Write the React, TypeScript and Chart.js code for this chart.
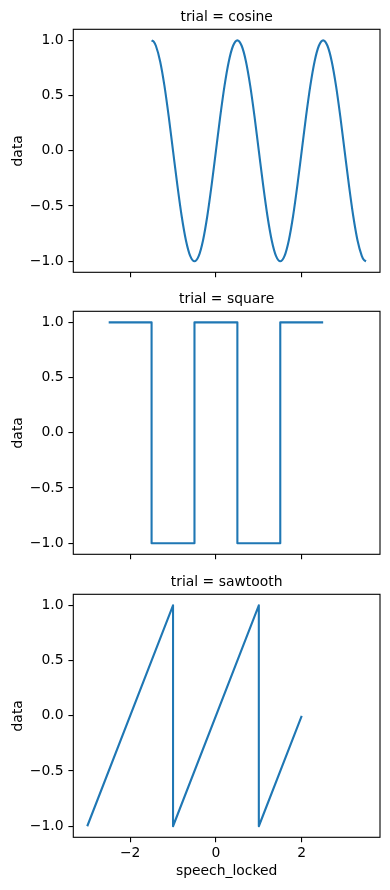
import React, { useEffect, useRef } from "react";
import { Chart, registerables } from "chart.js";

Chart.register(...registerables);

// ---- data ----
const cosineX = [
  -1.5, -1.45, -1.4, -1.3, -1.2, -1.1, -1.0, -0.9, -0.8, -0.7, -0.6,
  -0.5, -0.4, -0.3, -0.2, -0.1, 0.0, 0.1, 0.2, 0.3, 0.4,
  0.5, 0.6, 0.7, 0.8, 0.9, 1.0, 1.1, 1.2, 1.3, 1.4,
  1.5, 1.6, 1.7, 1.8, 1.9, 2.0, 2.1, 2.2, 2.3, 2.4,
  2.5, 2.6, 2.7, 2.8, 2.9, 3.0, 3.1, 3.2, 3.3, 3.4,
  3.45, 3.5,
];
const cosineY = [
  1.0, 0.988, 0.951, 0.809, 0.588, 0.309, 0.0, -0.309, -0.588, -0.809, -0.951,
  -1.0, -0.951, -0.809, -0.588, -0.309, 0.0, 0.309, 0.588, 0.809, 0.951,
  1.0, 0.951, 0.809, 0.588, 0.309, 0.0, -0.309, -0.588, -0.809, -0.951,
  -1.0, -0.951, -0.809, -0.588, -0.309, 0.0, 0.309, 0.588, 0.809, 0.951,
  1.0, 0.951, 0.809, 0.588, 0.309, 0.0, -0.309, -0.588, -0.809, -0.951,
  -0.988, -1.0,
];
const squareX = [-2.5, -1.5, -1.5, -0.5, -0.5, 0.5, 0.5, 1.5, 1.5, 2.5];
const squareY = [1, 1, -1, -1, 1, 1, -1, -1, 1, 1];
const sawtoothX = [-3, -1, -1, 1, 1, 2];
const sawtoothY = [-1, 1, -1, 1, -1, 0];

const panelTitles = ["trial = cosine", "trial = square", "trial = sawtooth"];
const xTickValues = [-2, 0, 2];
const yTickValues = [-1, -0.5, 0, 0.5, 1];
const xLabel = "speech_locked";
const yLabel = "data";

const X_MIN = -3.325;
const X_MAX = 3.825;
const Y_MIN = -1.1;
const Y_MAX = 1.1;

// ---- layout ----
const FONT_FAMILY = '"DejaVu Sans", sans-serif';
const FONT_SIZE = 13.9;
const PLOT_H = 243;
const LINE_COLOR = "#1f77b4";

const fmt = (v: number, digits: number) =>
  Number(v).toFixed(digits).replace("-", "\u2212");

function makeFramePlugin(title: string) {
  return {
    id: "frameAndTitle",
    afterDraw(chart: any) {
      const { ctx, chartArea: a } = chart;
      ctx.save();
      ctx.strokeStyle = "#000";
      ctx.lineWidth = 1.1;
      ctx.strokeRect(a.left, a.top, a.right - a.left, a.bottom - a.top);
      ctx.fillStyle = "#000";
      ctx.font = `${FONT_SIZE}px ${FONT_FAMILY}`;
      ctx.textAlign = "center";
      ctx.textBaseline = "alphabetic";
      ctx.fillText(title, (a.left + a.right) / 2, a.top - 8);
      ctx.restore();
    },
  };
}

type PanelProps = {
  title: string;
  xs: number[];
  ys: number[];
  top: number;
  height: number;
  plotTop: number;
  showXLabels: boolean;
  smooth?: boolean;
};

function Panel({ title, xs, ys, top, height, plotTop, showXLabels, smooth }: PanelProps) {
  const ref = useRef<HTMLCanvasElement>(null);
  useEffect(() => {
    const canvas = ref.current!;
    const plotBottom = plotTop + PLOT_H;
    const font = { family: FONT_FAMILY, size: FONT_SIZE };
    const chart = new Chart(canvas, {
      type: "scatter",
      data: {
        datasets: [
          {
            data: xs.map((x, i) => ({ x, y: ys[i] })),
            showLine: true,
            borderColor: LINE_COLOR,
            backgroundColor: LINE_COLOR,
            borderWidth: 2.1,
            pointRadius: 0,
            pointHoverRadius: 0,
            fill: false,
            borderJoinStyle: "round",
            borderCapStyle: "butt",
            cubicInterpolationMode: smooth ? "monotone" : "default",
            tension: smooth ? 0.4 : 0,
          } as any,
        ],
      },
      options: {
        responsive: false,
        animation: false,
        devicePixelRatio: 1,
        events: [],
        layout: { padding: { top: plotTop, right: 10, bottom: 0, left: 0 } },
        plugins: {
          legend: { display: false },
          tooltip: { enabled: false },
          title: { display: false },
        },
        scales: {
          x: {
            type: "linear",
            position: "bottom",
            min: X_MIN,
            max: X_MAX,
            afterBuildTicks: (s: any) => {
              s.ticks = xTickValues.map((v) => ({ value: v }));
            },
            afterFit: (s: any) => {
              s.height = height - plotBottom;
              s.paddingLeft = 0;
              s.paddingRight = 0;
              s.paddingTop = 0;
              s.paddingBottom = 0;
            },
            grid: {
              drawOnChartArea: false,
              drawTicks: true,
              tickLength: 4.9,
              color: "#000",
              lineWidth: 1.1,
            },
            border: { display: false },
            ticks: {
              display: showXLabels,
              padding: 3,
              color: "#000",
              font,
              maxRotation: 0,
              autoSkip: false,
              callback: (v: any) => fmt(v, 0),
            },
            title: {
              display: showXLabels,
              text: xLabel,
              color: "#000",
              font,
              padding: { top: 0, bottom: 10 },
            },
          },
          y: {
            type: "linear",
            position: "left",
            min: Y_MIN,
            max: Y_MAX,
            afterBuildTicks: (s: any) => {
              s.ticks = yTickValues.map((v) => ({ value: v }));
            },
            afterFit: (s: any) => {
              s.width = 73.3;
              s.paddingLeft = 0;
              s.paddingRight = 0;
              s.paddingTop = 0;
              s.paddingBottom = 0;
            },
            grid: {
              drawOnChartArea: false,
              drawTicks: true,
              tickLength: 4.9,
              color: "#000",
              lineWidth: 1.1,
            },
            border: { display: false },
            ticks: {
              padding: 4.9,
              color: "#000",
              font,
              autoSkip: false,
              callback: (v: any) => fmt(v, 1),
            },
            title: {
              display: true,
              text: yLabel,
              color: "#000",
              font,
              padding: { top: 10, bottom: 0 },
            },
          },
        },
      },
      plugins: [makeFramePlugin(title)],
    });
    return () => chart.destroy();
  }, [title, xs, ys, top, height, plotTop, showXLabels, smooth]);

  return (
    <canvas
      ref={ref}
      width={390}
      height={height}
      style={{ position: "absolute", left: 0, top, width: 390, height, display: "block" }}
    />
  );
}

export default function App() {
  return (
    <div
      style={{
        position: "absolute",
        left: 0,
        top: 0,
        width: 390,
        height: 890,
        background: "#fff",
        overflow: "hidden",
      }}
    >
      <Panel title={panelTitles[0]} xs={cosineX} ys={cosineY} top={0} height={282} plotTop={29.3} showXLabels={false} smooth />
      <Panel title={panelTitles[1]} xs={squareX} ys={squareY} top={282} height={283} plotTop={29.3} showXLabels={false} />
      <Panel title={panelTitles[2]} xs={sawtoothX} ys={sawtoothY} top={565} height={325} plotTop={29.3} showXLabels={true} />
    </div>
  );
}
